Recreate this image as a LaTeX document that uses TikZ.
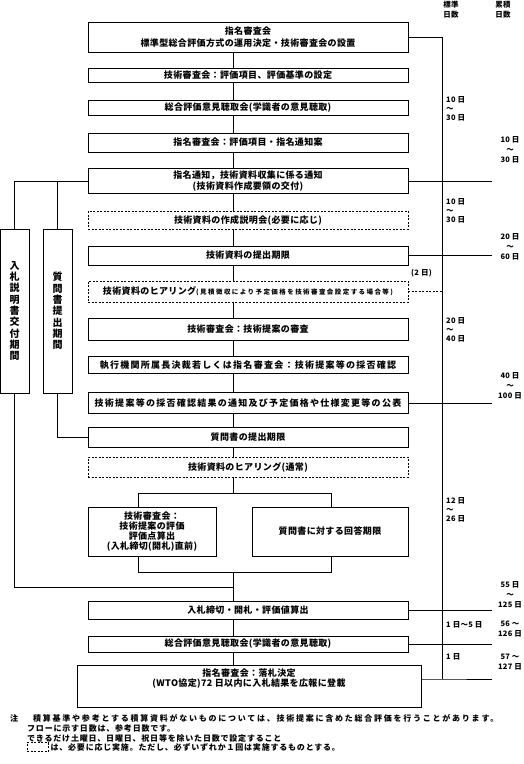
\documentclass[tikz,border=0pt]{standalone}
\usepackage{fontspec}
\setmainfont{Noto Sans CJK JP}
\newfontfamily\jp{Noto Sans CJK JP}[LetterSpace=4]
\usetikzlibrary{positioning, calc}
\tikzstyle{process} = [rectangle, minimum width=320pt, inner sep=1pt, align=center, draw=black, line width=0.8pt, fill=white, font=\jp\bfseries\fontsize{9pt}{11pt}\selectfont]
\tikzstyle{wide} = [process, font=\jp\bfseries\fontsize{9pt}{11pt}\selectfont\addfontfeature{LetterSpace=14}]
\tikzstyle{option} = [process, dash pattern=on 2pt off 1.5pt]
\tikzstyle{period} = [rectangle, minimum width=29pt, minimum height=164pt, inner sep=0pt, align=center, draw=black, line width=0.8pt, font=\jp\bfseries\fontsize{10pt}{11.3pt}\selectfont]
\tikzstyle{days} = [inner sep=0pt, align=left, anchor=west, font=\jp\bfseries\fontsize{7.5pt}{9pt}\selectfont]
\tikzstyle{total} = [inner sep=0pt, align=center, font=\jp\bfseries\fontsize{7.5pt}{10pt}\selectfont]
\tikzstyle{note} = [inner sep=0pt, anchor=west, font=\jp\bfseries\fontsize{8pt}{10pt}\selectfont\addfontfeature{LetterSpace=10}]
\tikzstyle{line} = [line width=0.8pt]
\begin{document}
\begin{tikzpicture}[x=1pt, y=-1pt]
\useasboundingbox (0,0) rectangle (524,764);

% Guide lines
\coordinate (spine) at (233,0);
\coordinate (rail) at (442,0);
\coordinate (rend) at (492,0);
\coordinate (railbot) at (442,679);

% Main flow
\node (b1) [process, minimum height=30pt] at (248,37) {指名審査会\\[1pt]標準型総合評価方式の運用決定・技術審査会の設置};
\node (b2) [process, minimum height=14pt] at (248,75) {技術審査会：評価項目、評価基準の設定};
\node (b3) [process, minimum height=15pt] at (248,107.5) {総合評価意見聴取会(学識者の意見聴取)};
\node (b4) [process, minimum height=19pt] at (248,142.5) {指名審査会：評価項目・指名通知案};
\node (b5) [process, minimum height=25pt] at (248,181) {指名通知，技術資料収集に係る通知\\(技術資料作成要領の交付)};
\node (b6) [option, minimum height=18pt] at (248,220) {技術資料の作成説明会(必要に応じ)};
\node (b7) [process, minimum height=19pt] at (248,255.5) {技術資料の提出期限};
\node (b8) [option, minimum height=21pt] at (248,291.5) {技術資料のヒアリング{\fontsize{6.5pt}{8pt}\selectfont\addfontfeature{LetterSpace=22}(見積徴収により予定価格を技術審査会設定する場合等)}};
\node (b9) [process, minimum height=22pt] at (248,329.5) {技術審査会：技術提案の審査};
\node (b10) [wide, minimum height=17pt] at (248,365) {執行機関所属長決裁若しくは指名審査会：技術提案等の採否確認};
\node (b11) [wide, minimum height=21pt] at (248,403) {技術提案等の採否確認結果の通知及び予定価格や仕様変更等の公表};
\node (b12) [process, minimum height=20pt] at (248,437) {質問書の提出期限};
\node (b13) [option, minimum height=20pt] at (248,467) {技術資料のヒアリング(通常)};

% Split
\node (eval) [process, minimum width=128pt, minimum height=49pt, font=\jp\bfseries\fontsize{9pt}{10pt}\selectfont] at (152,531.5) {技術審査会：\\技術提案の評価\\評価点算出\\(入札締切(開札)直前)};
\node (answer) [process, minimum width=156pt, minimum height=49pt] at (330,531.5) {質問書に対する回答期限};
\coordinate (fork) at (233,493);
\coordinate (forkL) at (138,493);
\coordinate (forkR) at (331,493);
\coordinate (joinL) at (138,572);
\coordinate (joinR) at (331,572);
\coordinate (join) at (233,572);
\coordinate (enter) at (233,587);

% Bidding
\node (b14) [process, minimum height=18pt] at (248,610) {入札締切・開札・評価値算出};
\node (b15) [process, minimum height=16pt] at (248,644) {総合評価意見聴取会(学識者の意見聴取)};
\node (b16) [process, minimum width=344pt, minimum height=42pt, font=\jp\bfseries\fontsize{9pt}{10pt}\selectfont] at (249,686) {指名審査会：落札決定\\(WTO協定)72 日以内に入札結果を広報に登載\\[6pt]};

% Periods
\node (bid) [period] at (14.5,311) {入\\札\\説\\明\\書\\交\\付\\期\\間};
\node (qst) [period] at (57.5,311) {質\\問\\書\\提\\出\\期\\間};

% Connectors
\foreach \a/\b in {b1/b2, b2/b3, b3/b4, b4/b5, b5/b6, b6/b7, b7/b8, b8/b9, b9/b10, b10/b11, b11/b12, b12/b13}
  \draw [line] (\a.south -| spine) -- (\b.north -| spine);
\draw [line] (b13.south -| spine) -- (fork);
\draw [line] (forkL) -- (forkR);
\draw [line] (forkL) -- (eval.north -| forkL);
\draw [line] (forkR) -- (answer.north -| forkR);
\draw [line] (eval.south -| joinL) -- (joinL) -- (joinR) -- (answer.south -| joinR);
\draw [line] (join) -- (b14.north -| spine);
\draw [line] (b14.south -| spine) -- (b15.north -| spine);
\draw [line] (b15.south -| spine) -- (b16.north -| spine);

\draw [line] (b5.west) -- (bid.north |- b5.west) -- (bid.north);
\draw [line] (qst.north |- b5.west) -- (qst.north);
\draw [line] (qst.south) -- (qst.south |- b12.west) -- (b12.west);
\draw [line] (bid.south) -- (bid.south |- enter) -- (enter);

\draw [line] (b1.east) -- (b1.east -| rail) -- (railbot);
\foreach \n in {b5, b7, b11, b14, b15}
  \draw [line] (\n.east) -- (\n.east -| rend);
\draw [line, dash pattern=on 2pt off 1.5pt] (b8.east) -- (b8.east -| rail);
\draw [line] ([yshift=7pt]b16.east) -- (railbot) -- (railbot -| rend);

% Day counts
\node (hstd) [total] at (451,10) {標準\\日数};
\node (hsum) [total] at (503,10) {累積\\日数};
\node (s1) [days] at (446,109) {10 日\\～\\30 日};
\node (s2) [days] at (446,211) {10 日\\～\\30 日};
\node (s3) [days] at (446,330) {20 日\\～\\40 日};
\node (s4) [days] at (446,510) {12 日\\～\\26 日};
\node (s5) [days] at (446,625) {1 日～5 日};
\node (s6) [days] at (446,657) {1 日};
\node (two) [days] at (411,273) {(2 日)};
\node (c1) [total] at (510,150) {10 日\\～\\30 日};
\node (c2) [total] at (510,247) {20 日\\～\\60 日};
\node (c3) [total] at (510,386) {40 日\\～\\100 日};
\node (c4) [total] at (510,595) {55 日\\～\\125 日};
\node (c5) [total] at (510,629) {56 ～\\126 日};
\node (c6) [total] at (510,662) {57 ～\\127 日};

% Notes
\node (n0) [note] at (10,718) {注};
\node (n1) [note, font=\jp\bfseries\fontsize{8pt}{10pt}\selectfont\addfontfeature{LetterSpace=22}] at (33,718) {積算基準や参考とする積算資料がないものについては、技術提案に含めた総合評価を行うことがあります。};
\node (n2) [note] at (27,728) {フローに示す日数は、参考日数です。};
\node (n3) [note] at (27,738) {できるだけ土曜日、日曜日、祝日等を除いた日数で設定すること};
\node (key) [option, minimum width=21pt, minimum height=9pt, inner sep=0pt] at (37.5,747) {};
\node (n4) [note, right=2pt of key] {は、必要に応じ実施。ただし、必ずいずれか１回は実施するものとする。};

\end{tikzpicture}
\end{document}
